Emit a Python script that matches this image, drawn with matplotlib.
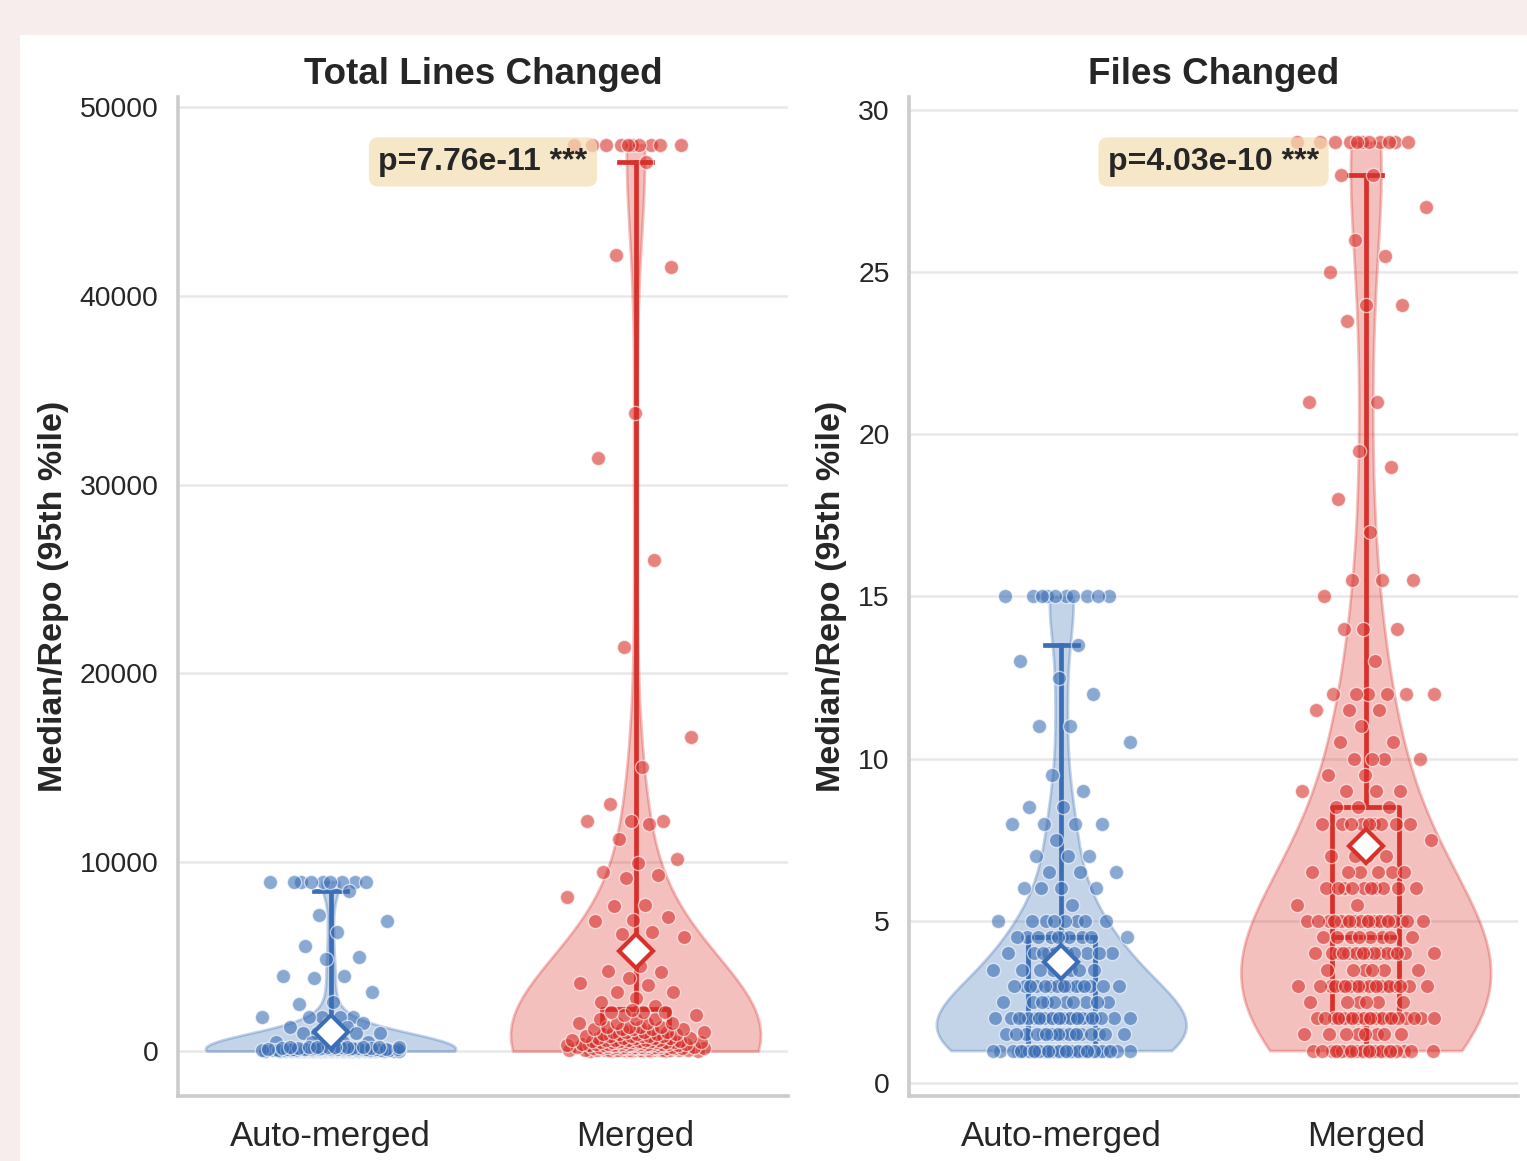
import numpy as np
import matplotlib
matplotlib.use('Agg')
import matplotlib.pyplot as plt
from matplotlib.patches import Rectangle
from matplotlib.transforms import blended_transform_factory
from statistics import NormalDist

# ---------------- data ----------------
CATEGORIES = ['Auto-merged', 'Merged']
PANEL_TITLES = ['Total Lines Changed', 'Files Changed']
Y_LABEL = 'Median/Repo (95th %ile)'
P_LABELS = ['p=7.76e-11 ***', 'p=4.03e-10 ***']

# Total lines changed, auto-merged
AUTO_LINES_HIGH = [8980, 8960, 8950, 8950, 8940, 8960, 8950, 8970, 8940,
                   8490, 7200, 6890, 6320, 5580, 5000, 4870, 3970, 3970, 3870,
                   3140, 2610, 2490, 1820, 1820, 1820, 1820, 1820, 1500, 1480,
                   1290, 1290, 950, 950, 950, 950, 950, 950, 500, 500, 500, 500, 500]
AUTO_LINES_LOW = [0, 15, 30, 50, 70, 100, 130, 160, 200]
AUTO_LINES_LOW_COUNTS = [20, 18, 18, 18, 16, 14, 12, 10, 10]

# Total lines changed, merged
MERGED_LINES_HIGH = [48000, 48000, 48000, 48000, 48000, 48000, 48000, 48000, 48000, 48000,
                     47100, 42160, 41530, 33800, 31400, 26000, 21400, 16630, 15040, 13080,
                     12200, 12200, 12200, 12020, 11230, 10170, 9960, 9480, 9320, 9160,
                     8160, 7730, 7680, 7100, 6950, 6900, 6300, 6200, 6030, 4500,
                     4240, 4200, 3880, 3620, 3500, 3130, 3130, 2800, 2600, 2400]
MERGED_LINES_LOW = [0, 30, 80, 150, 220, 300, 380, 460, 540, 600, 700, 800, 900,
                    1000, 1150, 1300, 1500, 1700, 1900, 2070, 2200]
MERGED_LINES_LOW_COUNTS = [8, 10, 12, 14, 14, 14, 12, 10, 6, 6, 6, 6, 5,
                           5, 5, 4, 4, 3, 2, 3, 1]

# Files changed, auto-merged (value levels and how many repos at each)
AUTO_FILES = [1.0, 1.5, 2.0, 2.5, 3.0, 3.5, 4.0, 4.5, 5.0, 5.5, 6.0, 6.5, 7.0, 7.5,
              8.0, 8.5, 9.0, 9.5, 10.5, 11.0, 12.0, 12.5, 13.0, 13.5, 15.0]
AUTO_FILES_COUNTS = [52, 18, 32, 10, 16, 8, 10, 10, 8, 1, 4, 3, 3, 1,
                     4, 2, 1, 1, 1, 2, 1, 1, 1, 1, 10]

# Files changed, merged
MERGED_FILES = [1.0, 1.5, 2.0, 2.5, 3.0, 3.5, 4.0, 4.5, 5.0, 5.5, 6.0, 6.5, 7.0, 7.5,
                8.0, 8.5, 9.0, 9.5, 10.0, 10.5, 11.0, 11.5, 12.0, 13.0, 14.0, 15.0,
                15.5, 17.0, 18.0, 19.0, 19.5, 21.0, 23.5, 24.0, 25.0, 25.5, 26.0,
                27.0, 28.0, 29.0]
MERGED_FILES_COUNTS = [24, 8, 26, 6, 20, 6, 16, 8, 20, 2, 10, 6, 4, 1,
                       9, 3, 4, 2, 4, 2, 1, 3, 6, 1, 3, 1,
                       3, 1, 1, 1, 1, 2, 1, 2, 1, 1, 1,
                       1, 2, 11]

TICKS_LINES = [0, 10000, 20000, 30000, 40000, 50000]
TICKS_FILES = [0, 5, 10, 15, 20, 25, 30]

# ---------------- style ----------------
BLUE = '#3b6eb5'
RED = '#d8302a'
COLORS = [BLUE, RED]
TEXT = '#262626'

plt.rcParams['font.family'] = ['Liberation Sans', 'DejaVu Sans']


def build(high, low, low_counts):
    return np.concatenate([np.array(high, float), np.repeat(low, low_counts).astype(float)])


auto_lines = build(AUTO_LINES_HIGH, AUTO_LINES_LOW, AUTO_LINES_LOW_COUNTS)
merged_lines = build(MERGED_LINES_HIGH, MERGED_LINES_LOW, MERGED_LINES_LOW_COUNTS)
auto_files = np.repeat(AUTO_FILES, AUTO_FILES_COUNTS).astype(float)
merged_files = np.repeat(MERGED_FILES, MERGED_FILES_COUNTS).astype(float)

panels = [
    dict(data=[auto_lines, merged_lines], ticks=TICKS_LINES, ylim=(-2380, 50530)),
    dict(data=[auto_files, merged_files], ticks=TICKS_FILES, ylim=(-0.4, 30.4)),
]

nd = NormalDist()


def jitter(n, offset, sd=0.1):
    # deterministic low-discrepancy jitter (display position only)
    idx = np.arange(n)
    u = (offset + idx * 0.6180339887) % 1.0
    u = np.clip(u, 0.012, 0.988)
    return np.array([nd.inv_cdf(v) for v in u]) * sd


W, H = 1527, 1161
fig = plt.figure(figsize=(W / 100, H / 100), dpi=100)
fig.patch.set_facecolor('#f8eded')
fig.add_artist(Rectangle((20 / W, 0), 1, 1 - 35 / H, transform=fig.transFigure,
                         facecolor='white', edgecolor='none', zorder=0))

axes_boxes = [(178, 788), (909, 1518)]
top_px, bot_px = 97, 1096

for k, (panel, (lpx, rpx)) in enumerate(zip(panels, axes_boxes)):
    ax = fig.add_axes([lpx / W, 1 - bot_px / H, (rpx - lpx) / W, (bot_px - top_px) / H])
    ax.set_facecolor('white')
    data = panel['data']

    vp = ax.violinplot(data, positions=[0, 1], widths=0.82, showmeans=False,
                       showextrema=False, showmedians=False)
    for body, c in zip(vp['bodies'], COLORS):
        rgb = matplotlib.colors.to_rgb(c)
        body.set_facecolor((*rgb, 0.28))
        body.set_edgecolor((*rgb, 0.3))
        body.set_linewidth(2.0)
        body.set_zorder(1)

    for i, (vals, c) in enumerate(zip(data, COLORS)):
        bp = ax.boxplot([vals], positions=[i], widths=0.22, whis=(5, 95),
                        showfliers=False, showmeans=True, patch_artist=False,
                        boxprops=dict(color=c, linewidth=3.4),
                        whiskerprops=dict(color=c, linewidth=3.4),
                        capprops=dict(color=c, linewidth=3.4),
                        medianprops=dict(color=c, linewidth=3.4),
                        meanprops=dict(marker='D', markerfacecolor='white',
                                       markeredgecolor=c, markersize=17,
                                       markeredgewidth=3),
                        manage_ticks=False, zorder=2)
        for m in bp['means']:
            m.set_zorder(6)
        xj = i + jitter(len(vals), 0.17 + 0.29 * i + 0.11 * k)
        ax.scatter(xj, vals, s=105, color=c, alpha=0.6, edgecolors='white',
                   linewidths=1.0, zorder=4)

    ax.set_xlim(-0.5, 1.5)
    ax.set_ylim(*panel['ylim'])
    ax.set_xticks([0, 1])
    ax.set_xticklabels(CATEGORIES, fontsize=25, color=TEXT)
    ax.set_yticks(panel['ticks'])
    ax.set_yticklabels([str(t) for t in panel['ticks']], fontsize=20.4, color=TEXT)
    ax.tick_params(axis='both', length=0)
    ax.tick_params(axis='y', pad=14)
    ax.tick_params(axis='x', pad=17)
    ax.yaxis.grid(True, color='#e8e8e8', linewidth=1.8)
    ax.xaxis.grid(False)
    ax.set_axisbelow(True)
    for s in ['top', 'right']:
        ax.spines[s].set_visible(False)
    for s in ['left', 'bottom']:
        ax.spines[s].set_color('#cccccc')
        ax.spines[s].set_linewidth(2.6)
    ax.set_title(PANEL_TITLES[k], fontsize=26.5, fontweight='bold', color=TEXT, pad=9)
    ax.set_ylabel(Y_LABEL, fontsize=24.5, fontweight='bold', color=TEXT, labelpad=8)
    ax.text(0.5, 0.935, P_LABELS[k],
            transform=blended_transform_factory(ax.transData, ax.transAxes),
            ha='center', va='center', fontsize=23, fontweight='bold', color=TEXT,
            bbox=dict(boxstyle='round,pad=0.3', facecolor='#f5deb3', alpha=0.7,
                      edgecolor='none'), zorder=7)

fig.savefig('out.png', dpi=100, facecolor=fig.get_facecolor())
